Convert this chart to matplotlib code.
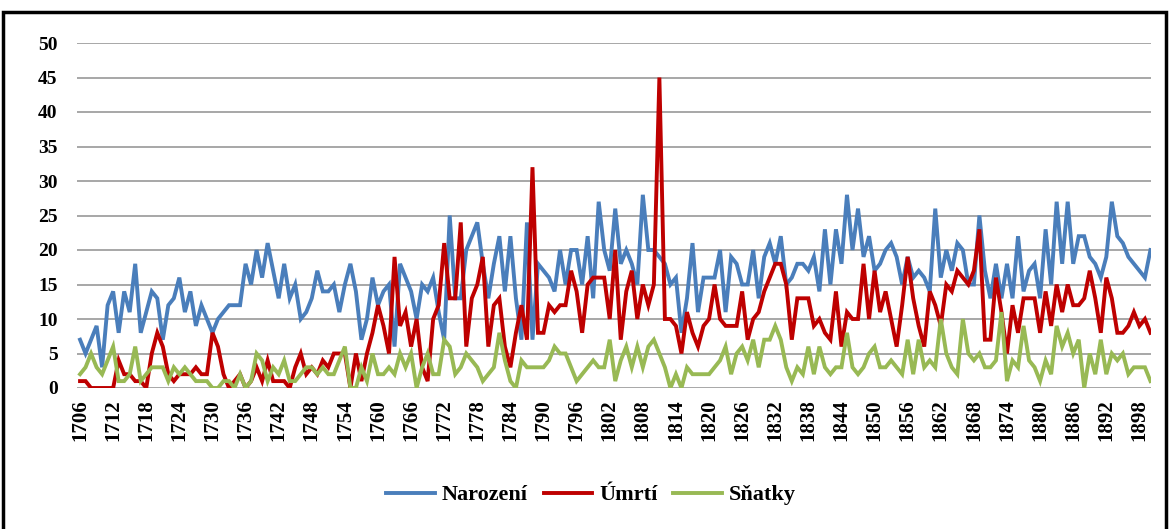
import numpy as np
import matplotlib
matplotlib.use("Agg")
import matplotlib.pyplot as plt
from matplotlib.patches import Rectangle

# values, one per year from 1706
narozeni = [
    7, 5, 7, 9, 3, 12, 14, 8, 14, 11,          # 1706-1715
    18, 8, 11, 14, 13, 7, 12, 13, 16, 11,      # 1716-1725
    14, 9, 12, 10, 8, 10, 11, 12, 12, 12,      # 1726-1735
    18, 15, 20, 16, 21, 17, 13, 18, 13, 15,    # 1736-1745
    10, 11, 13, 17, 14, 14, 15, 11, 15, 18,    # 1746-1755
    14, 7, 10, 16, 12, 14, 15, 6, 18, 16,      # 1756-1765
    14, 10, 15, 14, 16, 11, 7, 25, 13, 13,     # 1766-1775
    20, 22, 24, 18, 13, 18, 22, 14, 22, 13,    # 1776-1785
    7, 24, 7, 18, 17, 16, 14, 20, 15, 20,      # 1786-1795
    20, 15, 22, 13, 27, 20, 17, 26, 18, 20,    # 1796-1805
    18, 15, 28, 20, 20, 19, 18, 15, 16, 8,     # 1806-1815
    13, 21, 11, 16, 16, 16, 20, 11, 19, 18,    # 1816-1825
    15, 15, 20, 13, 19, 21, 18, 22, 15, 16,    # 1826-1835
    18, 18, 17, 19, 14, 23, 15, 23, 18, 28,    # 1836-1845
    20, 26, 19, 22, 17, 18, 20, 21, 19, 15,    # 1846-1855
    19, 16, 17, 16, 14, 26, 16, 20, 17, 21,    # 1856-1865
    20, 15, 15, 25, 17, 13, 18, 13, 18, 13,    # 1866-1875
    22, 14, 17, 18, 13, 23, 15, 27, 18, 27,    # 1876-1885
    18, 22, 22, 19, 18, 16, 19, 27, 22, 21,    # 1886-1895
    19, 18, 17, 16, 20,                        # 1896-1900
]
umrti = [
    1, 1, 0, 0, 0, 0, 0, 4, 2, 2,
    1, 1, 0, 5, 8, 6, 2, 1, 2, 2,
    2, 3, 2, 2, 8, 6, 2, 0, 1, 2,
    0, 1, 3, 1, 4, 1, 1, 1, 0, 3,
    5, 2, 3, 2, 4, 3, 5, 5, 5, 0,
    5, 1, 5, 8, 12, 9, 5, 19, 9, 11,
    6, 10, 3, 1, 10, 12, 21, 13, 13, 24,
    6, 13, 15, 19, 6, 12, 13, 6, 3, 8,
    12, 7, 32, 8, 8, 12, 11, 12, 12, 17,
    14, 8, 15, 16, 16, 16, 10, 20, 7, 14,
    17, 10, 15, 12, 15, 45, 10, 10, 9, 5,
    11, 8, 6, 9, 10, 15, 10, 9, 9, 9,
    14, 7, 10, 11, 14, 16, 18, 18, 15, 7,
    13, 13, 13, 9, 10, 8, 7, 14, 6, 11,
    10, 10, 18, 10, 17, 11, 14, 10, 6, 12,
    19, 13, 9, 6, 14, 12, 9, 15, 14, 17,
    16, 15, 17, 23, 7, 7, 16, 11, 5, 12,
    8, 13, 13, 13, 8, 14, 9, 15, 11, 15,
    12, 12, 13, 17, 13, 8, 16, 13, 8, 8,
    9, 11, 9, 10, 8,
]
snatky = [
    2, 3, 5, 3, 2, 4, 6, 1, 1, 2,
    6, 1, 2, 3, 3, 3, 1, 3, 2, 3,
    2, 1, 1, 1, 0, 0, 1, 1, 0, 2,
    0, 1, 5, 4, 1, 3, 2, 4, 1, 1,
    2, 3, 3, 2, 3, 2, 2, 4, 6, 0,
    0, 3, 1, 5, 2, 2, 3, 2, 5, 3,
    5, 0, 3, 5, 2, 2, 7, 6, 2, 3,
    5, 4, 3, 1, 2, 3, 8, 4, 1, 0,
    4, 3, 3, 3, 3, 4, 6, 5, 5, 3,
    1, 2, 3, 4, 3, 3, 7, 1, 4, 6,
    3, 6, 3, 6, 7, 5, 3, 0, 2, 0,
    3, 2, 2, 2, 2, 3, 4, 6, 2, 5,
    6, 4, 7, 3, 7, 7, 9, 7, 3, 1,
    3, 2, 6, 2, 6, 3, 2, 3, 3, 8,
    3, 2, 3, 5, 6, 3, 3, 4, 3, 2,
    7, 2, 7, 3, 4, 3, 10, 5, 3, 2,
    10, 5, 4, 5, 3, 3, 4, 11, 1, 4,
    3, 9, 4, 3, 1, 4, 2, 9, 6, 8,
    5, 7, 0, 5, 2, 7, 2, 5, 4, 5,
    2, 3, 3, 3, 1,
]
first_year = 1706
tick_years = list(range(1706, 1899, 6))

years = np.arange(first_year, first_year + len(narozeni))

label_font = dict(family="Liberation Serif", weight="bold")

fig = plt.figure(figsize=(11.70, 5.29), dpi=100)
ax = fig.add_axes([77 / 1170, 1 - 388 / 529, (1151 - 77) / 1170, (388 - 43) / 529])

ax.plot(years, narozeni, color="#4a7ebb", lw=2.8, label="Narození", solid_joinstyle="miter")
ax.plot(years, umrti, color="#be0000", lw=2.8, label="Úmrtí", solid_joinstyle="miter")
ax.plot(years, snatky, color="#98b954", lw=2.8, label="Sňatky", solid_joinstyle="miter")

ax.set_xlim(1705.45, 1900.1)
ax.set_ylim(0, 50)
ax.set_yticks(range(0, 51, 5))
ax.set_xticks(tick_years)
ax.set_xticklabels([str(y) for y in tick_years], rotation=90, fontsize=15, **label_font)
for t in ax.get_yticklabels():
    t.set_fontsize(14)
    t.set_fontfamily("Liberation Serif")
    t.set_fontweight("bold")

ax.grid(axis="y", color="#a0a0a0", lw=1.3)
ax.set_axisbelow(True)
for s in ax.spines.values():
    s.set_visible(False)
ax.tick_params(length=0, pad=8)
ax.tick_params(axis="y", pad=14)

leg = fig.legend(loc="center", bbox_to_anchor=(591 / 1170, 1 - 495 / 529), ncol=3,
                 frameon=False, handlelength=2.2, columnspacing=0.7, handletextpad=0.3,
                 prop=dict(family="Liberation Serif", weight="bold", size=16))

# outer chart border
fig.patches.append(Rectangle((3 / 1170, -0.05), 1163 / 1170, 1.05 - 12 / 529,
                             transform=fig.transFigure, fill=False, lw=2.5, ec="black"))

fig.savefig("out.png", dpi=100)
